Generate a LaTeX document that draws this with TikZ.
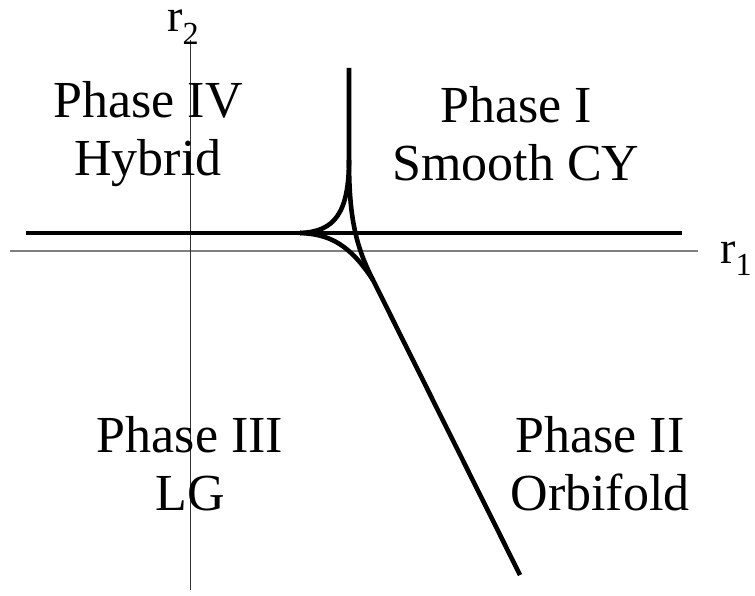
\documentclass[tikz,border=0pt]{standalone}
\usepackage{fontspec}
\setmainfont{Liberation Serif}
\begin{document}
\begin{tikzpicture}[x=1pt,y=-1pt,
  lbl/.style={font=\fontsize{52}{58}\selectfont, align=center, inner sep=0pt},
  axlbl/.style={font=\fontsize{46}{50}\selectfont, inner sep=0pt},
  thick curve/.style={line width=4.6pt, line join=round},
  haxis/.style={draw=black!50, line width=1.5pt},
  vaxis/.style={draw=black!80, line width=1pt}]
\useasboundingbox (0,0) rectangle (755,596);
% axes
\coordinate (hl) at (10,251);
\coordinate (hr) at (698,251);
\coordinate (vt) at (190,40);
\coordinate (vb) at (190,590);
\draw[haxis] (hl) -- (hr);
\draw[vaxis] (vt) -- (vb);
\node[axlbl, anchor=base west] (r1) at (720,263) {r\textsubscript{1}};
\node[axlbl, anchor=base west] (r2) at (167,32) {r\textsubscript{2}};
% curves
\coordinate (L) at (26,233);
\coordinate (R) at (682,233);
\coordinate (top) at (349,68);
\coordinate (bend) at (349,160);
\coordinate (cl) at (300,233);
\coordinate (j) at (373,280);
\coordinate (end) at (520,575);
\draw[thick curve] (L) -- (R);
\draw[thick curve] (top) -- (bend) .. controls (349,212) and (335,232) .. (cl);
\draw[thick curve] (cl) .. controls (330,234) and (350,245) .. (j) -- (end);
\draw[thick curve] (bend) .. controls (349,215) and (355,245) .. (j);
% labels
\node[lbl] (p4) at (148,134) {Phase IV\\Hybrid};
\node[lbl] (p1) at (516,134) {Phase I\\Smooth CY};
\node[lbl] (p3) at (190,464) {Phase III\\LG};
\node[lbl] (p2) at (600,464) {Phase II\\Orbifold};
\end{tikzpicture}
\end{document}
